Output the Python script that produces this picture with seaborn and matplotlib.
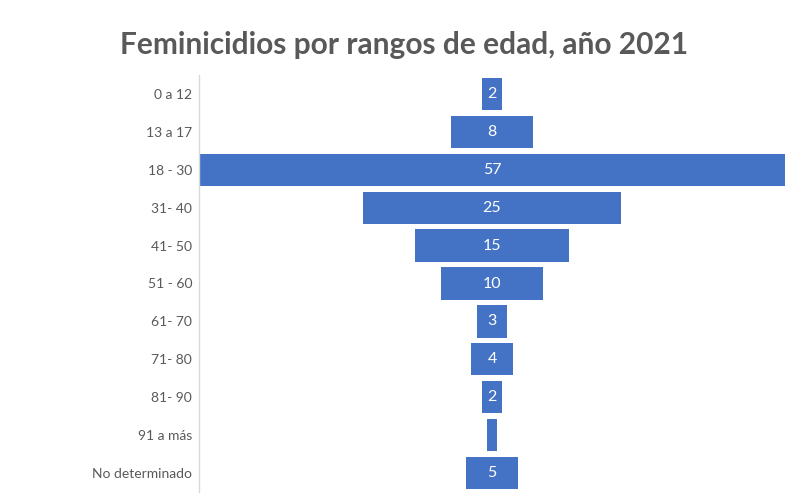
import numpy as np
import pandas as pd
import matplotlib
matplotlib.use("Agg")
import matplotlib.pyplot as plt
import seaborn as sns

# datos
rangos = ["0 a 12", "13 a 17", "18 - 30", "31- 40", "41- 50", "51 - 60",
          "61- 70", "71- 80", "81- 90", "91 a más", "No determinado"]
casos = [2, 8, 57, 25, 15, 10, 3, 4, 2, 1, 5]
etiquetas = ["2", "8", "57", "25", "15", "10", "3", "4", "2", "", "5"]

azul = "#4472C4"
gris = "#595959"

sns.set_theme(style="white")
plt.rcParams["font.family"] = ["Lato", "DejaVu Sans"]

df = pd.DataFrame({"rango": rangos, "casos": casos})
df["mitad"] = df["casos"] / 2
df["mitad_neg"] = -df["casos"] / 2

fig = plt.figure(figsize=(7.94, 5.04), dpi=100)
ax = fig.add_axes([199 / 794, 1 - 492 / 504, (785 - 199) / 794, (492 - 75) / 504])

# funnel: two halves around zero
sns.barplot(data=df, x="mitad", y="rango", color=azul, saturation=1,
            width=0.85, linewidth=0, ax=ax)
sns.barplot(data=df, x="mitad_neg", y="rango", color=azul, saturation=1,
            width=0.85, linewidth=0, ax=ax)

for i, t in enumerate(etiquetas):
    if t:
        ax.text(0, i, t, ha="center", va="center", color="white", fontsize=11.5)

m = max(casos) / 2
ax.set_xlim(-m, m)
ax.set_xlabel("")
ax.set_ylabel("")
ax.set_xticks([])
ax.tick_params(axis="y", length=0, labelsize=10, labelcolor=gris, pad=5)

for s in ["top", "right", "bottom"]:
    ax.spines[s].set_visible(False)
ax.spines["left"].set_color("#D9D9D9")
ax.spines["left"].set_linewidth(1)

fig.text(404 / 794, 1 - 45 / 504, "Feminicidios por rangos de edad, año 2021",
         ha="center", va="center", fontsize=21.5, fontweight="bold", color=gris)

fig.savefig("out.png", dpi=100)
